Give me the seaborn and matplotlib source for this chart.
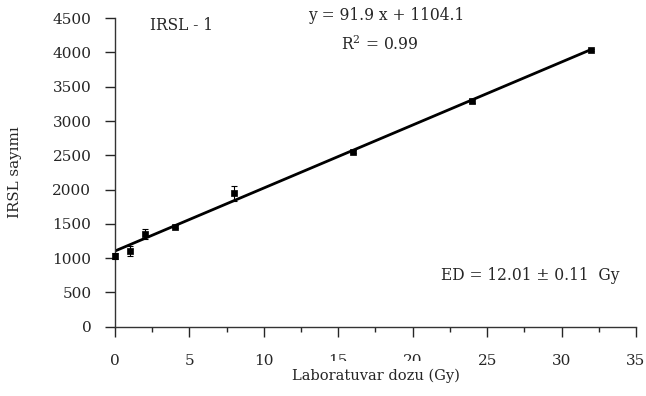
import numpy as np
import pandas as pd
import matplotlib
matplotlib.use("Agg")
import matplotlib.pyplot as plt
import seaborn as sns
from matplotlib.ticker import MultipleLocator

# data
dose = [0, 1, 2, 4, 8, 16, 24, 32]
counts = [1035, 1100, 1355, 1460, 1945, 2555, 3290, 4035]
errors = [45, 70, 70, 20, 110, 20, 25, 20]
slope = 91.9
intercept = 1104.1
x_ticks = [0, 5, 10, 15, 20, 25, 30, 35]
y_ticks = [0, 500, 1000, 1500, 2000, 2500, 3000, 3500, 4000, 4500]

sns.set_style("ticks")
plt.rcParams['font.family'] = ['DejaVu Serif', 'Liberation Serif']
plt.rcParams['mathtext.fontset'] = 'dejavuserif'

fig = plt.figure(figsize=(6.46, 3.96), dpi=100)
ax = fig.add_axes([0.178, 0.175, 0.8065, 0.779])

df = pd.DataFrame({"dose": dose, "counts": counts})
fit_x = [min(dose), max(dose)]
fit_df = pd.DataFrame({"dose": fit_x, "fit": [slope * v + intercept for v in fit_x]})

sns.lineplot(data=fit_df, x="dose", y="fit", color="black", linewidth=2.0, ax=ax, zorder=2)
ax.errorbar(dose, counts, yerr=errors, fmt="none", ecolor="black", elinewidth=0.8,
            capsize=2.5, capthick=0.8, zorder=3, clip_on=False)
sns.scatterplot(data=df, x="dose", y="counts", marker="s", color="black", s=22,
                edgecolor="black", linewidth=0.5, ax=ax, zorder=4, clip_on=False)

ax.set_xlim(0, 35)
ax.set_ylim(0, 4500)
ax.set_xticks(x_ticks)
ax.set_yticks(y_ticks)
ax.xaxis.set_minor_locator(MultipleLocator(2.5))
ax.tick_params(axis="x", which="major", direction="out", length=7, width=1.0, pad=13, labelsize=11)
ax.tick_params(axis="x", which="minor", direction="out", length=3.5, width=1.0)
ax.tick_params(axis="y", which="major", direction="out", length=7, width=1.0, pad=10, labelsize=11)
for s in ["top", "right"]:
    ax.spines[s].set_visible(False)
for s in ["left", "bottom"]:
    ax.spines[s].set_linewidth(1.0)
    ax.spines[s].set_color("#333333")

ax.set_xlabel("Laboratuvar dozu (Gy)", fontsize=10.5, labelpad=0,
              bbox=dict(facecolor="white", edgecolor="none", pad=5))
ax.set_ylabel("IRSL sayımı", fontsize=10.8, labelpad=22)

fig.text(150 / 646, 1 - 26 / 396, "IRSL - 1", fontsize=11.2, va="center", ha="left")
fig.text(308 / 646, 1 - 15 / 396, "y = 91.9 x + 1104.1", fontsize=11.2, va="center", ha="left")
fig.text(341 / 646, 1 - 45 / 396, r"R$^{2}$ = 0.99", fontsize=11.2, va="center", ha="left")
fig.text(441 / 646, 1 - 276 / 396, "ED = 12.01 ± 0.11  Gy", fontsize=11.2, va="center", ha="left")

fig.savefig("out.png", dpi=100)
